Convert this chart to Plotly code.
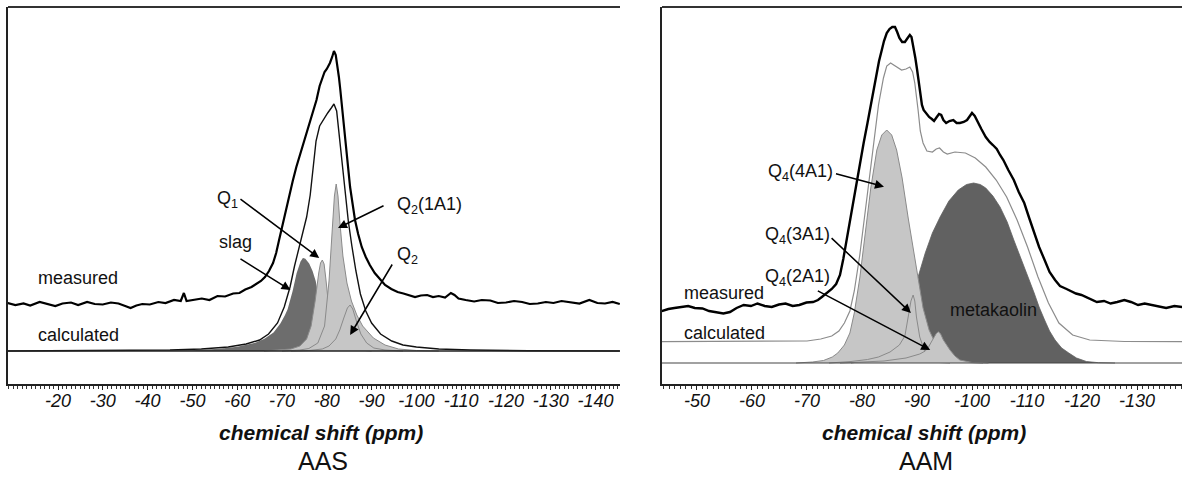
import plotly.graph_objects as go

# ---------------- AAS panel data (ppm, intensity) ----------------
aas_measured = [(-8.8,48),(-10.5,46),(-12.3,47.5),(-13.8,45.5),(-15.9,49),(-17.5,47),(-19.4,45),(-21.0,47.5),(-22.9,48.5),(-24.5,46),(-26.5,49),(-28.2,47),(-30.0,46.5),(-31.8,48.5),(-33.5,47.5),(-35.0,45),(-36.2,43),(-37.5,45.5),(-38.8,47),(-40.5,46.5),(-42.4,49),(-44.0,48),(-45.9,51),(-47.4,50),(-48.1,58),(-48.7,50),(-50.5,51.5),(-52.1,52.5),(-53.8,51),(-55.6,55),(-57.3,54.5),(-59.1,57.5),(-60.5,58),(-61.8,61.5),(-63.2,64),(-64.4,67.5),(-65.3,70),(-66.2,74),(-67.1,80),(-68.0,88),(-68.7,98),(-69.3,110),(-70.0,124),(-70.6,137),(-71.5,155),(-72.4,170),(-73.2,184),(-74.1,197),(-75.0,211),(-75.9,224),(-76.8,238),(-77.7,251),(-78.4,265),(-79.0,274),(-79.5,279),(-80.0,282),(-80.4,285),(-80.7,288),(-81.2,294),(-81.6,300),(-82.0,296),(-82.3,288),(-82.7,274),(-83.0,262),(-83.4,244),(-83.7,228),(-84.0,212),(-84.4,195),(-84.8,180),(-85.2,164),(-85.8,146),(-86.3,131),(-87.0,117),(-87.8,104),(-88.7,94),(-89.6,86),(-90.7,78),(-91.8,72),(-93.0,66),(-94.4,62),(-95.8,59),(-97.1,57.5),(-98.4,56),(-99.7,54),(-101.0,55.5),(-102.4,56),(-103.7,54),(-105.0,55),(-106.4,53.5),(-107.7,58),(-108.5,56),(-109.4,52.5),(-111.0,51),(-112.9,49.5),(-114.6,51),(-116.5,50.5),(-118.2,48),(-120.0,48.5),(-121.8,50),(-123.6,49),(-125.3,47),(-127.1,47.5),(-128.9,49),(-130.6,48),(-132.4,50),(-134.2,49),(-136.4,47.5),(-138.6,51),(-140.4,48),(-142.1,47.5),(-143.8,49),(-145.4,47)]
aas_calculated = [(-8.8,0),(-30,0.3),(-45,1),(-52,2),(-58,4),(-62,7),(-65,11),(-67,17),(-69,28),(-70.5,44),(-71.8,64),(-72.8,85),(-73.7,102),(-74.6,116),(-75.5,134),(-76.3,156),(-77.0,183),(-77.6,210),(-78.4,225),(-79.3,232),(-80.2,238),(-81.0,243),(-81.6,247),(-82.2,240),(-82.8,215),(-83.4,185),(-84.0,160),(-84.8,130),(-85.6,105),(-86.5,80),(-87.5,57),(-88.7,40),(-90,28),(-92,17),(-94.5,10),(-97,6),(-100,4),(-105,2),(-112,1),(-125,0.3),(-145.4,0)]
aas_slag = [(-30,0),(-40,0.5),(-50,1.5),(-56,3),(-60,5),(-64,9),(-66,13),(-68,19),(-69.5,28),(-70.5,36),(-71.1,42),(-72.2,60),(-73.1,78),(-74.0,90),(-74.6,94),(-75.3,93),(-76.2,88),(-77.0,80),(-77.7,70),(-78.5,50),(-79.5,25),(-80.5,10),(-82,3),(-84,0.5),(-86,0)]
aas_q1 = [(-66,0),(-70,1),(-72,2),(-74,5),(-75.5,12),(-76.5,25),(-77.4,50),(-78.2,78),(-78.6,88),(-79.0,91),(-79.4,87),(-79.8,72),(-80.3,50),(-81.2,28),(-82.3,14),(-83.5,7),(-85,3),(-87,1),(-90,0)]
aas_q2_1al = [(-70,0),(-74,1),(-76,2.5),(-78,8),(-79.5,25),(-80.5,70),(-81.2,120),(-81.7,155),(-82.1,167),(-82.5,155),(-82.9,130),(-83.6,95),(-84.5,68),(-85.5,50),(-86.7,36),(-88,25),(-90.4,13),(-93,6),(-96,2),(-100,0.5),(-105,0)]
aas_q2 = [(-72,0),(-76,0.5),(-79,2),(-80.5,5),(-82,12),(-82.9,21),(-83.8,33),(-84.6,43),(-85.2,46),(-85.8,42),(-86.6,30),(-87.6,17),(-88.9,8),(-90.5,3),(-93,1),(-97,0)]

# ---------------- AAM panel data (ppm, intensity) ----------------
aam_measured = [(-43.6,52),(-44.8,54),(-45.9,55),(-47.1,56),(-48.4,57),(-49.6,55),(-51.0,54.5),(-52.2,52),(-53.5,51),(-54.8,49.5),(-56.0,51),(-57.2,55),(-58.5,58),(-59.8,57),(-61.0,59.5),(-62.3,57),(-63.6,56),(-64.9,58.5),(-66.1,59.5),(-67.4,57),(-68.6,58),(-69.9,60.5),(-71.1,61),(-72.0,63),(-72.7,66),(-73.6,70),(-74.5,74),(-75.3,79),(-76.0,88),(-76.6,104),(-77.1,120),(-77.8,140),(-78.4,160),(-79.0,180),(-79.7,200),(-80.3,220),(-81.0,240),(-81.5,255),(-82.0,270),(-82.6,288),(-83.1,302),(-83.6,313),(-84.0,322),(-84.5,330),(-85.0,334),(-85.5,336),(-86.0,336),(-86.4,331),(-86.8,325),(-87.3,321),(-87.8,321),(-88.3,325),(-88.7,328),(-89.0,326),(-89.3,318),(-89.7,305),(-90.0,294),(-90.3,280),(-90.6,266),(-90.9,258),(-91.2,253),(-91.7,249),(-92.2,246),(-92.7,244),(-93.1,242),(-93.6,246),(-94.0,249),(-94.4,248),(-94.8,243),(-95.3,240),(-95.9,242),(-96.6,243),(-97.2,240),(-97.8,240),(-98.5,241),(-99.1,243),(-99.6,247),(-100.0,250),(-100.5,247),(-101.0,241),(-101.7,234),(-102.5,226),(-103.2,221),(-103.8,218),(-104.5,214),(-105.1,208),(-105.7,203),(-106.6,193),(-107.6,183),(-108.5,171),(-109.5,160),(-110.4,145),(-111.3,130),(-112.2,116),(-113.2,103),(-114.1,91),(-115.1,83),(-116.0,77),(-117.0,74.5),(-118.0,72),(-118.9,69.5),(-119.9,68),(-120.8,66),(-121.7,64),(-122.7,61),(-124.0,62),(-125.2,59.5),(-126.4,61),(-127.7,63),(-128.9,61),(-130.2,58),(-131.4,59.5),(-132.7,58),(-134.0,56),(-135.3,55),(-136.8,57),(-138.2,56)]
aam_calculated = [(-43.6,21.3),(-65,21.3),(-70,22),(-72.5,24),(-74.5,27),(-75.8,32),(-76.8,40),(-77.8,52),(-78.6,72),(-79.6,108),(-80.6,152),(-81.6,198),(-82.4,233),(-83.0,258),(-83.9,285),(-84.5,297),(-85.2,300),(-86.0,297),(-87.2,293),(-88.0,294),(-88.7,296),(-89.2,291),(-89.6,280),(-90.2,253),(-90.6,232),(-91.1,220),(-91.8,212),(-92.8,211),(-93.5,214),(-94.1,215),(-94.8,211),(-95.5,209),(-96.9,211),(-98.8,210),(-100.6,205),(-102.5,196),(-104.4,183),(-106.3,166),(-108.2,143),(-110.1,116),(-112.0,86),(-113.9,60),(-115.8,40),(-118.3,28),(-121.4,23),(-127.7,21.5),(-138.2,21.3)]
aam_metakaolin = [(-78,0),(-80,1.5),(-82,5),(-84,14),(-86,30),(-87.5,48),(-89,68),(-90.2,86),(-91.5,110),(-92.8,130),(-94.2,146),(-95.8,162),(-97.5,173),(-99,178.5),(-100.3,180),(-101.5,178.5),(-102.5,175),(-103.8,167),(-105.1,156),(-106.4,141),(-107.6,123),(-108.6,108),(-109.5,96),(-110.4,83),(-111.3,70),(-112.2,56),(-113.2,43),(-114.1,32),(-115.1,23),(-116.3,15),(-117.6,10),(-119,5),(-120.8,1.5),(-123,0.3),(-126,0)]
aam_q4_4al = [(-68,0),(-71,1),(-73,2.5),(-74.6,6),(-75.6,10),(-76.8,18),(-77.8,30),(-78.6,50),(-79.6,85),(-80.6,128),(-81.6,175),(-82.7,213),(-83.6,228),(-84.5,233),(-85.4,228),(-86.3,213),(-87.3,185),(-88.4,145),(-89.9,93),(-91.1,55),(-92.2,33),(-93.4,19),(-94.6,10),(-96.6,3),(-99,0.6),(-102,0)]
aam_q4_3al = [(-74,0),(-78,1.5),(-81,3.5),(-83,6),(-85.1,11),(-86.8,18),(-87.8,27),(-88.4,46),(-88.9,62),(-89.3,68),(-89.6,62),(-89.9,46),(-90.5,26),(-91.5,10),(-92.4,3),(-94,0.5),(-96,0)]
aam_q4_2al = [(-76,0),(-80,0.8),(-84,2),(-88,5),(-90.5,9),(-91.5,12),(-92.1,16),(-92.6,21),(-93.0,25),(-93.5,29.5),(-93.9,31.3),(-94.3,29),(-94.8,23),(-95.4,18),(-96.0,13),(-96.9,7),(-97.8,3),(-100,0.5),(-103,0)]

aas_tick_vals = [-20, -30, -40, -50, -60, -70, -80, -90, -100, -110, -120, -130, -140]
aam_tick_vals = [-50, -60, -70, -80, -90, -100, -110, -120, -130]

FONT = "Arial, Liberation Sans, sans-serif"
LIGHT = "#c6c6c6"
EDGE = "#8a8a8a"


def xs(p):
    return [a for a, _ in p]


def ys(p):
    return [b for _, b in p]


fig = go.Figure()


def add(pairs, xa, ya, color, width, fill=None, fillcolor=None):
    fig.add_trace(go.Scatter(
        x=xs(pairs), y=ys(pairs), xaxis=xa, yaxis=ya, mode="lines",
        line=dict(color=color, width=width), fill=fill, fillcolor=fillcolor,
        hoverinfo="skip", showlegend=False))


# AAS
add(aas_slag, "x", "y", "white", 1.5, "tozeroy", "#6d6d6d")
add(aas_q1, "x", "y", EDGE, 1, "tozeroy", LIGHT)
add(aas_q2_1al, "x", "y", EDGE, 1, "tozeroy", LIGHT)
add(aas_q2, "x", "y", EDGE, 1, "tozeroy", LIGHT)
add(aas_calculated, "x", "y", "#111", 1.4)
add(aas_measured, "x", "y", "#000", 2.2)

# AAM
add(aam_metakaolin, "x2", "y2", "#616161", 0.8, "tozeroy", "#616161")
add(aam_q4_4al, "x2", "y2", EDGE, 1, "tozeroy", LIGHT)
add(aam_q4_3al, "x2", "y2", EDGE, 1, "tozeroy", LIGHT)
add(aam_q4_2al, "x2", "y2", EDGE, 1, "tozeroy", LIGHT)
add(aam_calculated, "x2", "y2", "#8c8c8c", 1.2)
add(aam_measured, "x2", "y2", "#000", 2.4)

W, H = 1182, 477


def xaxis(domain, rng, vals, anchor):
    return dict(domain=domain, range=rng, anchor=anchor, showgrid=False, zeroline=False,
                showline=True, linecolor="#222", linewidth=1.6, mirror=False,
                ticks="outside", ticklen=4, tickwidth=1, tickcolor="#222",
                ticklabelstandoff=-4,
                tickmode="array", tickvals=vals, ticktext=[str(v) for v in vals],
                tickfont=dict(family=FONT, size=18, color="#111", style="italic"),
                minor=dict(tickmode="linear", tick0=0, dtick=1, ticks="outside",
                           ticklen=3, tickwidth=1, tickcolor="#333", showgrid=False),
                fixedrange=True)


def yaxis(rng, anchor):
    return dict(domain=[1 - 384 / H, 1 - 7 / H], range=rng, anchor=anchor, showgrid=False,
                zeroline=False, showline=True, linecolor="#222", linewidth=1.6,
                mirror=False, ticks="", showticklabels=False, fixedrange=True)


fig.update_layout(
    template="none",
    width=W, height=H, margin=dict(l=0, r=0, t=0, b=0, pad=0),
    paper_bgcolor="white", plot_bgcolor="white", showlegend=False,
    xaxis=xaxis([8 / W, 620 / W], [-8.84, -145.45], aas_tick_vals, "y"),
    yaxis=yaxis([-33, 344], "x"),
    xaxis2=xaxis([662 / W, 1.0], [-43.64, -138.18], aam_tick_vals, "y2"),
    yaxis2=yaxis([-21, 356], "x2"),
    font=dict(family=FONT, color="#111"),
)

# top frame lines and baselines
for xr, yr in (("x", "y"), ("x2", "y2")):
    fig.add_shape(type="line", xref=xr + " domain", yref=yr + " domain", x0=0, x1=1,
                  y0=1, y1=1, line=dict(color="#333", width=1.8), layer="above")
fig.add_shape(type="line", xref="x domain", yref="y", x0=0, x1=1, y0=0, y1=0,
              line=dict(color="#222", width=1.3), layer="above")
fig.add_shape(type="line", xref="x2 domain", yref="y2", x0=0, x1=1, y0=0, y1=0,
              line=dict(color="#444", width=1.2), layer="above")

LBL = dict(family=FONT, size=18, color="#111")


def text(xr, yr, x, y, s, anchor="left"):
    fig.add_annotation(xref=xr, yref=yr, x=x, y=y, text=s, showarrow=False,
                       xanchor=anchor, yanchor="middle", font=LBL)


def arrow(xr, yr, head, tail):
    fig.add_annotation(xref=xr, yref=yr, axref=xr, ayref=yr, x=head[0], y=head[1],
                       ax=tail[0], ay=tail[1], text="", showarrow=True,
                       arrowhead=2, arrowsize=1.2, arrowwidth=1.5, arrowcolor="#000",
                       standoff=0)


# AAS labels
text("x", "y", -15.0, 73, "measured")
text("x", "y", -15.0, 16, "calculated")
text("x", "y", -55.4, 109, "slag")
text("x", "y", -55.0, 152, "Q<sub>1</sub>")
text("x", "y", -95.2, 146, "Q<sub>2</sub>(1A1)")
text("x", "y", -95.2, 96, "Q<sub>2</sub>")
arrow("x", "y", (-71.9, 61), (-60.4, 93))
arrow("x", "y", (-78.3, 93), (-60.4, 153))
arrow("x", "y", (-82.5, 123), (-93.0, 146))
arrow("x", "y", (-85.2, 16), (-94.8, 88))

# AAM labels
text("x2", "y2", -47.2, 70.5, "measured")
text("x2", "y2", -47.2, 30, "calculated")
text("x2", "y2", -95.6, 53, "metakaolin")
text("x2", "y2", -62.5, 191, "Q<sub>4</sub>(4A1)")
text("x2", "y2", -62.0, 128, "Q<sub>4</sub>(3A1)")
text("x2", "y2", -62.0, 86, "Q<sub>4</sub>(2A1)")
arrow("x2", "y2", (-84.0, 176.3), (-75.0, 189.7))
arrow("x2", "y2", (-88.9, 50), (-74.2, 126.3))
arrow("x2", "y2", (-92.4, 13), (-71.7, 73))

# axis titles and panel names
for cx, name in ((321, "AAS"), (924, "AAM")):
    fig.add_annotation(xref="paper", yref="paper", x=cx / W, y=1 - 432 / H,
                       text="chemical shift (ppm)", showarrow=False,
                       xanchor="center", yanchor="middle",
                       font=dict(family=FONT, size=21, color="#111",
                                 weight="bold", style="italic"))
    fig.add_annotation(xref="paper", yref="paper", x=(cx + 2) / W, y=1 - 461 / H,
                       text=name, showarrow=False, xanchor="center", yanchor="middle",
                       font=dict(family=FONT, size=25, color="#111"))

fig.write_html("out.html", config={"displayModeBar": False, "staticPlot": True},
               post_script="document.body.style.margin='0';document.body.style.overflow='hidden';")
